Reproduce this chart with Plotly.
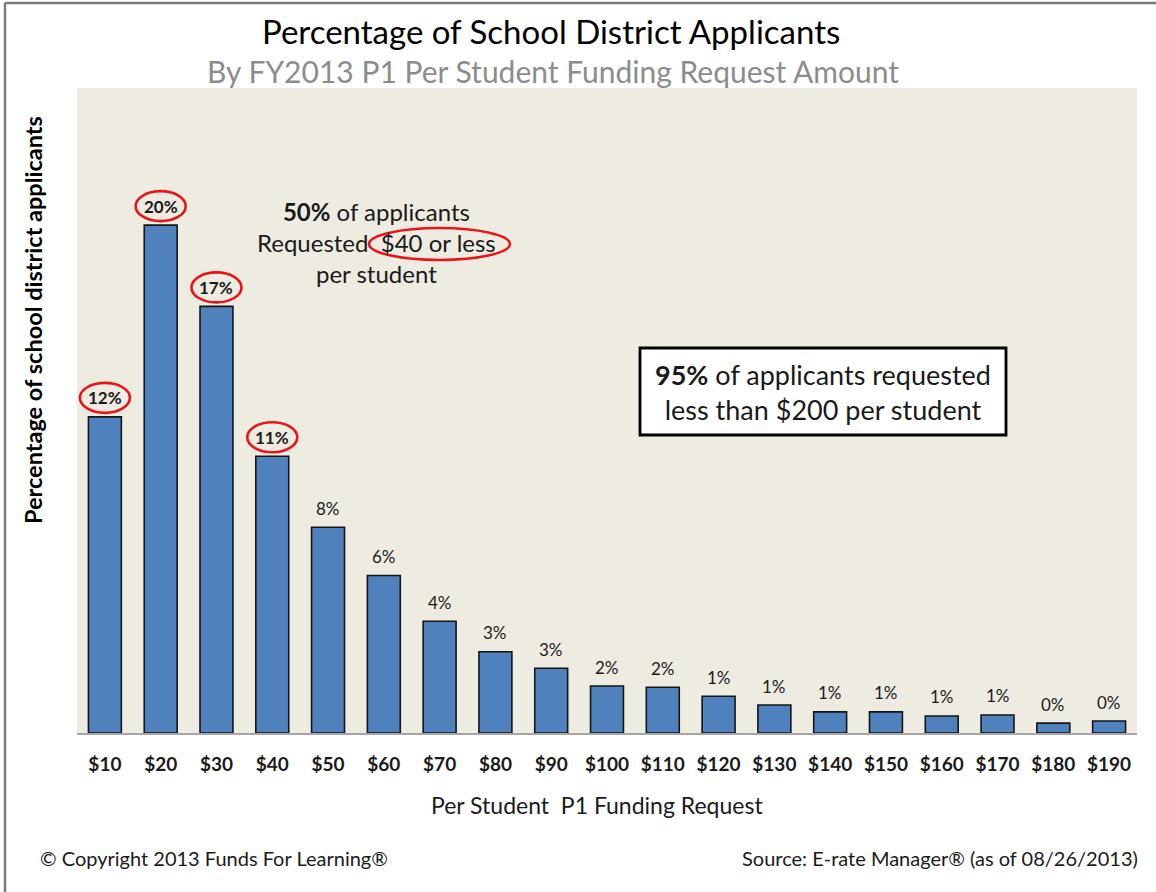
import plotly.graph_objects as go

categories = ["$10", "$20", "$30", "$40", "$50", "$60", "$70", "$80", "$90", "$100",
              "$110", "$120", "$130", "$140", "$150", "$160", "$170", "$180", "$190"]
values = [12.45, 20.0, 16.8, 10.9, 8.1, 6.2, 4.4, 3.2, 2.55, 1.85,
          1.8, 1.45, 1.1, 0.83, 0.83, 0.67, 0.71, 0.39, 0.47]
circled = ["$10", "$20", "$30", "$40"]

FONT = "Lato"
W, H = 1156, 892
L, R, T, B = 77, 1137, 88, 733


def px(x):
    return (x - L) / (R - L)


def py(y):
    return (B - y) / (B - T)


fig = go.Figure()
fig.add_trace(go.Bar(
    x=categories, y=values,
    marker=dict(color="#4F81BD", line=dict(color="#151515", width=1.6)),
    hoverinfo="x+y",
))

annotations = []
shapes = []
for c, v in zip(categories, values):
    bold = c in circled
    label = f"{round(v)}%"
    annotations.append(dict(
        x=c, y=v, xref="x", yref="y", text=f"<b>{label}</b>" if bold else label,
        showarrow=False, yshift=19, font=dict(family=FONT, size=17, color="#1a1a1a"),
    ))
    if bold:
        shapes.append(dict(
            type="circle", xref="x", yref="y", xsizemode="pixel", ysizemode="pixel",
            xanchor=c, yanchor=v, x0=-25, x1=25, y0=4, y1=34,
            line=dict(color="#e8141a", width=2.6), fillcolor="rgba(0,0,0,0)",
        ))

# titles
annotations += [
    dict(text="Percentage of School District Applicants", x=px(551), y=py(31),
         xref="paper", yref="paper", showarrow=False, xanchor="center", yanchor="middle",
         font=dict(family=FONT, size=33, color="#000000")),
    dict(text="By FY2013 P1 Per Student Funding Request Amount", x=px(553), y=py(71),
         xref="paper", yref="paper", showarrow=False, xanchor="center", yanchor="middle",
         font=dict(family=FONT, size=30, color="#8c8c8c")),
    dict(text="<b>Percentage of school district applicants</b>", x=px(33), y=py(320),
         xref="paper", yref="paper", showarrow=False, textangle=-90,
         xanchor="center", yanchor="middle",
         font=dict(family=FONT, size=23.5, color="#000000")),
    dict(text="Per Student  P1 Funding Request", x=px(597), y=py(805),
         xref="paper", yref="paper", showarrow=False, xanchor="center", yanchor="middle",
         font=dict(family=FONT, size=23, color="#1a1a1a")),
    dict(text="© Copyright 2013 Funds For Learning®", x=px(38), y=py(858),
         xref="paper", yref="paper", showarrow=False, xanchor="left", yanchor="middle",
         font=dict(family=FONT, size=20, color="#1a1a1a")),
    dict(text="Source: E-rate Manager® (as of 08/26/2013)", x=px(1140), y=py(858),
         xref="paper", yref="paper", showarrow=False, xanchor="right", yanchor="middle",
         font=dict(family=FONT, size=20, color="#1a1a1a")),
    dict(text="<b>50%</b> of applicants<br>Requested  $40 or less<br>per student",
         x=px(376), y=py(242), xref="paper", yref="paper", showarrow=False,
         xanchor="center", yanchor="middle", align="center",
         font=dict(family=FONT, size=24, color="#1a1a1a")),
    dict(text="<b>95%</b> of applicants requested<br>less than $200 per student",
         x=px(823), y=py(392), xref="paper", yref="paper", showarrow=False,
         xanchor="center", yanchor="middle", align="center",
         font=dict(family=FONT, size=27, color="#1a1a1a")),
]

shapes += [
    # ellipse around "$40 or less"
    dict(type="circle", xref="paper", yref="paper", x0=px(369), x1=px(510),
         y0=py(260), y1=py(228), line=dict(color="#e8141a", width=2.6)),
    # white box
    dict(type="rect", xref="paper", yref="paper", x0=px(640), x1=px(1006),
         y0=py(435), y1=py(348), line=dict(color="#000000", width=2.8),
         fillcolor="#ffffff", layer="below"),
    # outer frame lines (top and left)
    dict(type="line", xref="paper", yref="paper", x0=px(5), x1=px(1160),
         y0=py(3), y1=py(3), line=dict(color="#7a7a7a", width=2.5)),
    dict(type="line", xref="paper", yref="paper", x0=px(5), x1=px(5),
         y0=py(3), y1=py(895), line=dict(color="#7a7a7a", width=2.5)),
]

fig.update_layout(
    width=W, height=H,
    margin=dict(l=L, r=W - R, t=T, b=H - B, pad=0),
    paper_bgcolor="#ffffff",
    plot_bgcolor="#EEECE1",
    bargap=0.41,
    showlegend=False,
    annotations=annotations,
    shapes=shapes,
    xaxis=dict(
        type="category", showgrid=False, showline=True, linecolor="#a6a6a6", linewidth=2,
        ticks="", ticklabelstandoff=13,
        tickfont=dict(family=FONT, size=19, color="#1a1a1a", weight="bold"),
        fixedrange=True,
    ),
    yaxis=dict(range=[0, 25.4], showgrid=False, showticklabels=False, zeroline=False,
               showline=False, ticks="", fixedrange=True),
)

fig.write_html("out.html", config={"displayModeBar": False},
               post_script="document.body.style.margin='0';document.body.style.overflow='hidden';")
